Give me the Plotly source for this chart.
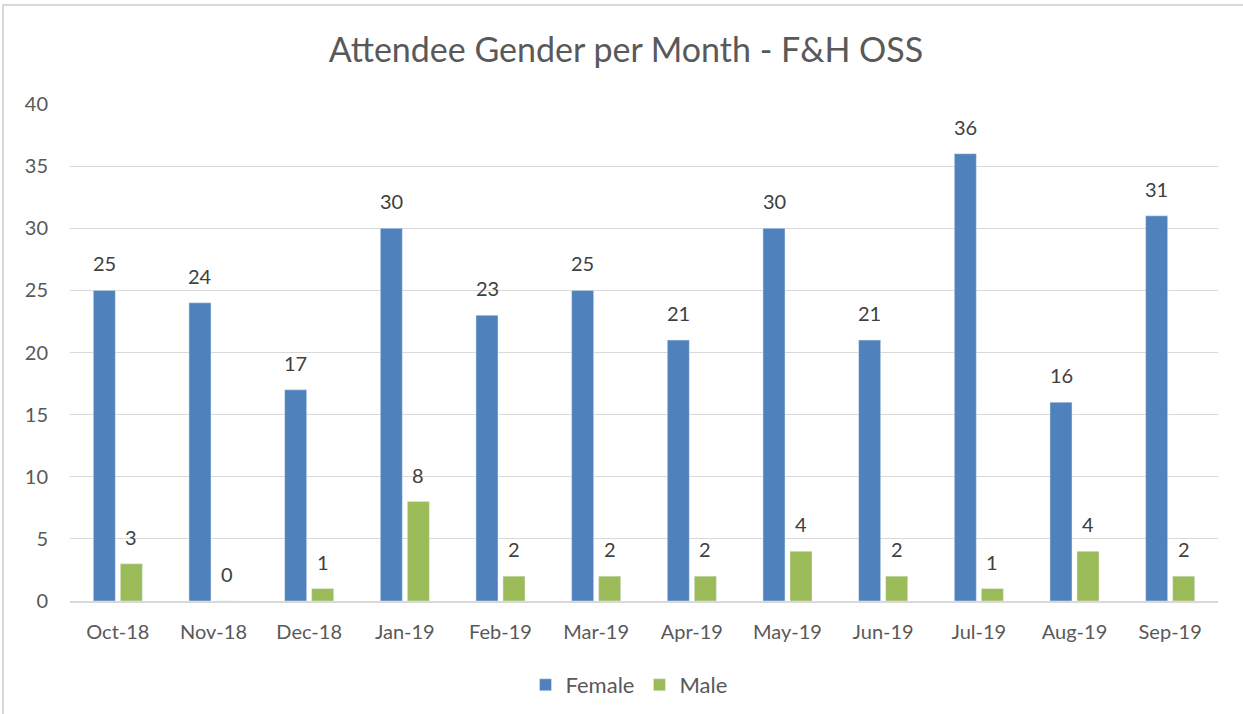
import plotly.graph_objects as go

months = ["Oct-18", "Nov-18", "Dec-18", "Jan-19", "Feb-19", "Mar-19",
          "Apr-19", "May-19", "Jun-19", "Jul-19", "Aug-19", "Sep-19"]
female = [25, 24, 17, 30, 23, 25, 21, 30, 21, 36, 16, 31]
male = [3, 0, 1, 8, 2, 2, 2, 4, 2, 1, 4, 2]

FONT = "Lato, Open Sans, sans-serif"
GREY = "#595959"

W, H = 1243, 714
L, R, T, B = 70, 25, 104, 113
pw, ph = W - L - R, H - T - B

def px(x):
    return (x - L) / pw

def py(y):
    return (H - B - y) / ph

fig = go.Figure()
fig.add_trace(go.Bar(x=months, y=female, name="Female", marker_color="#4f81bd"))
fig.add_trace(go.Bar(x=months, y=male, name="Male", marker_color="#9bbb59"))

annotations = []
for series, shift in ((female, -13.5), (male, 13.5)):
    for m, v in zip(months, series):
        annotations.append(dict(x=m, y=v, text=str(v), showarrow=False,
                                xshift=shift, yshift=13, yanchor="bottom",
                                font=dict(family=FONT, size=20, color="#404040")))

fig.update_layout(
    width=W, height=H,
    margin=dict(l=L, r=R, t=T, b=B, autoexpand=False),
    paper_bgcolor="white", plot_bgcolor="white",
    barmode="group", bargap=0.435, bargroupgap=0.185,
    title=dict(text="Attendee Gender per Month - F&H OSS", x=626 / W, xanchor="center",
               y=1 - 50 / H, yanchor="middle",
               font=dict(family=FONT, size=34, color=GREY)),
    font=dict(family=FONT, color=GREY),
    xaxis=dict(tickfont=dict(family=FONT, size=20, color=GREY),
               showline=True, linecolor="#d9d9d9", linewidth=1.5, ticks="",
               ticklabelstandoff=12),
    yaxis=dict(range=[0, 40], dtick=5, tickfont=dict(family=FONT, size=20, color=GREY),
               gridcolor="#d9d9d9", gridwidth=1.3, zeroline=False, ticks="",
               ticklabelstandoff=21),
    legend=dict(orientation="h", x=px(629), xanchor="center", y=py(685), yanchor="middle",
                font=dict(family=FONT, size=22, color=GREY), itemwidth=30),
    annotations=annotations,
    shapes=[dict(type="rect", xref="paper", yref="paper",
                 x0=px(3), x1=px(1260), y0=py(740), y1=py(5),
                 line=dict(color="#d9d9d9", width=2))],
)

fig.write_html("out.html", config={"displayModeBar": False},
               post_script="document.body.style.margin='0';")
